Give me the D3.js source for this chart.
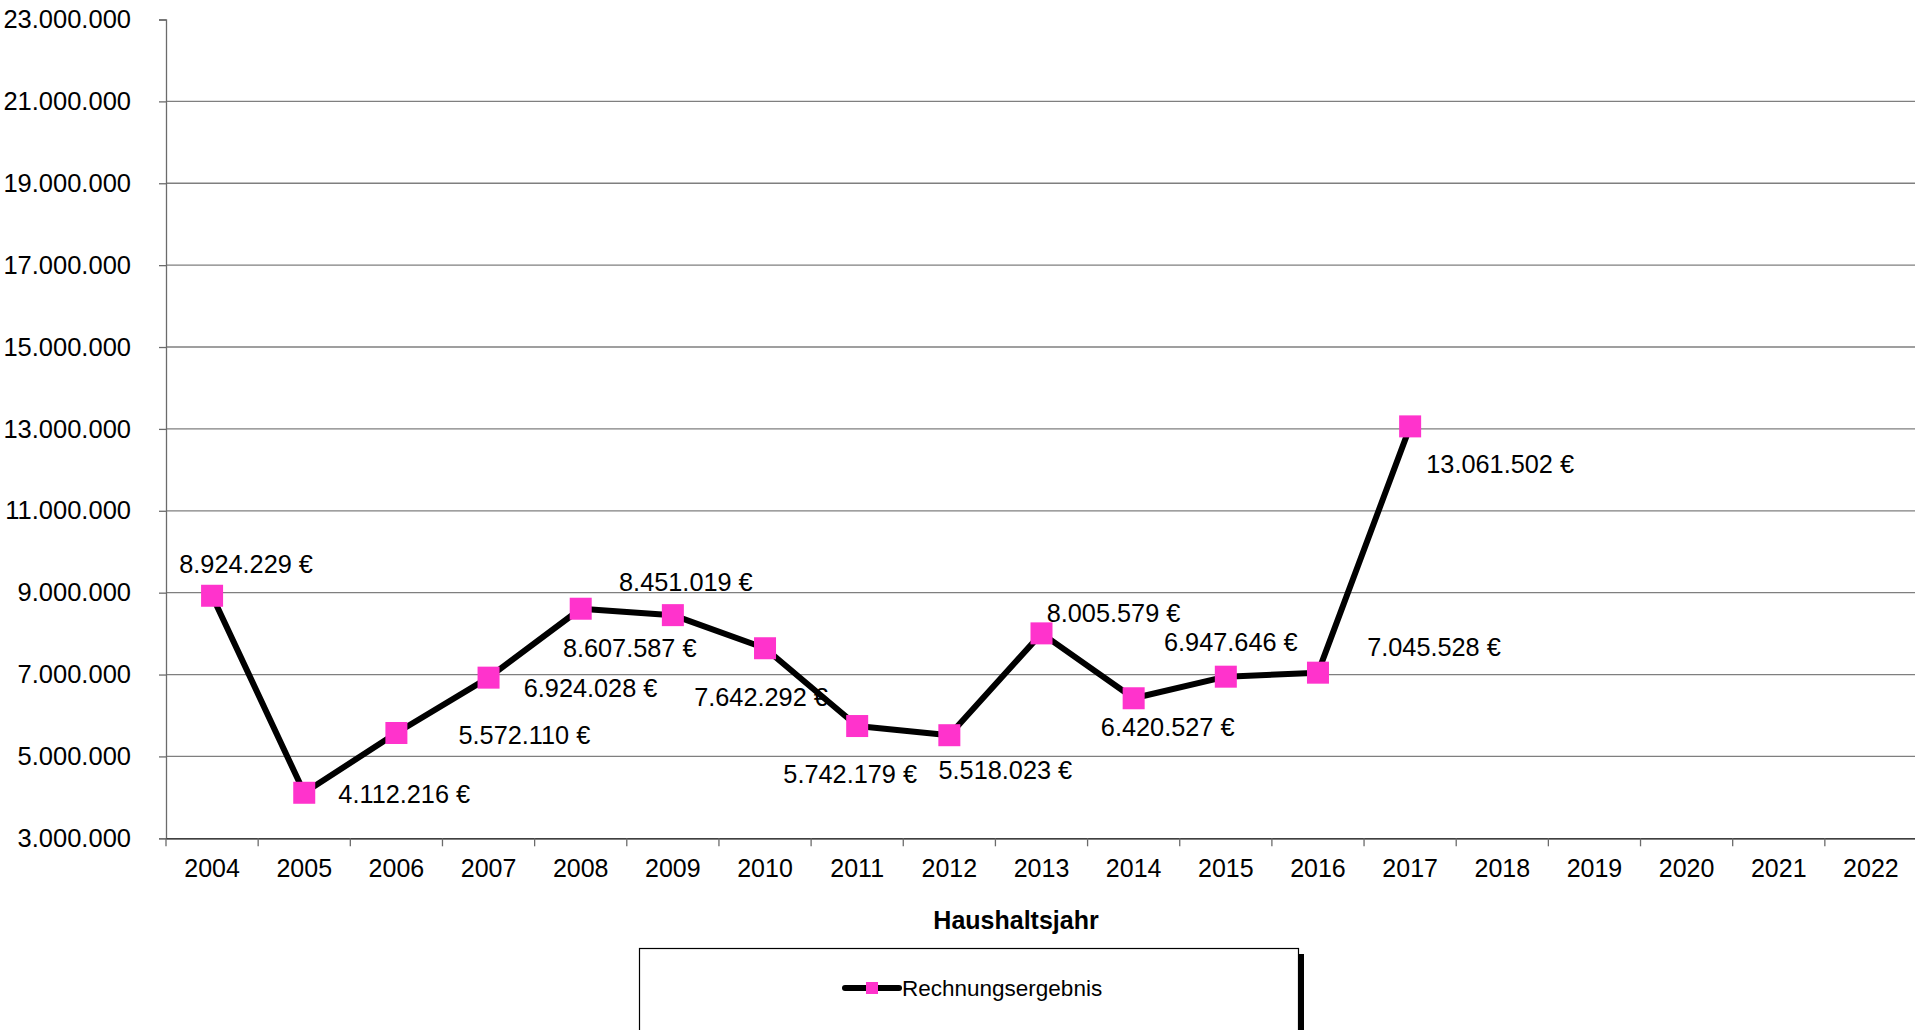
<!DOCTYPE html>
<html>
<head>
<meta charset="utf-8">
<script src="https://cdn.jsdelivr.net/npm/d3@7"></script>
<style>
  html, body { margin: 0; padding: 0; background: #fff; overflow: hidden; }
  svg { display: block; font-family: "Liberation Sans", Arial, sans-serif; }
</style>
</head>
<body>
<svg width="1915" height="1030"></svg>
<script>
// chart data
const years = ["2004", "2005", "2006", "2007", "2008", "2009", "2010", "2011", "2012",
               "2013", "2014", "2015", "2016", "2017", "2018", "2019", "2020", "2021", "2022"];
const valueYears = ["2004", "2005", "2006", "2007", "2008", "2009", "2010", "2011", "2012",
                    "2013", "2014", "2015", "2016", "2017"];
const values = [8924229, 4112216, 5572110, 6924028, 8607587, 8451019, 7642292, 5742179,
                5518023, 8005579, 6420527, 6947646, 7045528, 13061502];
const yTicks = [3000000, 5000000, 7000000, 9000000, 11000000, 13000000, 15000000,
                17000000, 19000000, 21000000, 23000000];
const seriesName = "Rechnungsergebnis";
const xTitle = "Haushaltsjahr";

// where each data label sits relative to its marker (layout only)
const labelOffsets = [[34, -32], [100, 1], [128, 2], [102, 10], [49, 39], [13, -33], [-4, 49],
                      [-7, 48], [56, 35], [72, -20], [34, 29], [5, -35], [116, -26], [90, 38]];

const de = d3.formatLocale({decimal: ",", thousands: ".", grouping: [3], currency: ["", " €"]});
const fmtAxis = de.format(",.0f");
const fmtLabel = v => de.format(",.0f")(v) + " €";

const svg = d3.select("svg");
const plotLeft = 166, plotRight = 1917, plotTop = 19.5, plotBottom = 838.3;

const x = d3.scaleBand().domain(years).range([plotLeft, plotRight]).padding(0);
const y = d3.scaleLinear().domain([3000000, 23000000]).range([plotBottom, plotTop]);

// gridlines (no line at the top value)
svg.append("g")
  .selectAll("line")
  .data(yTicks.filter(t => t > 3000000 && t < 23000000))
  .enter().append("line")
  .attr("x1", plotLeft).attr("x2", plotRight)
  .attr("y1", d => y(d)).attr("y2", d => y(d))
  .attr("stroke", "#7f7f7f").attr("stroke-width", 1.3);

// y axis
const yAxis = svg.append("g")
  .attr("transform", `translate(${plotLeft},0)`)
  .call(d3.axisLeft(y).tickValues(yTicks).tickFormat(fmtAxis).tickSize(7).tickPadding(28));
yAxis.select(".domain").attr("stroke", "#6b6b6b").attr("stroke-width", 1.3);
yAxis.selectAll(".tick line").attr("stroke", "#6b6b6b").attr("stroke-width", 1.3);
yAxis.selectAll("text").attr("font-size", 25.5).attr("fill", "#000")
  .attr("font-family", "Liberation Sans, Arial, sans-serif");

// x axis: ticks sit on the band boundaries
const xAxis = svg.append("g")
  .attr("transform", `translate(0,${plotBottom})`)
  .call(d3.axisBottom(x).tickSize(0).tickPadding(21));
xAxis.select(".domain").attr("stroke", "#000").attr("stroke-width", 1.3);
xAxis.selectAll("text").attr("font-size", 25).attr("fill", "#000")
  .attr("font-family", "Liberation Sans, Arial, sans-serif");
xAxis.selectAll(".boundary")
  .data(years)
  .enter().append("line")
  .attr("class", "boundary")
  .attr("x1", d => x(d)).attr("x2", d => x(d))
  .attr("y1", 0).attr("y2", 8)
  .attr("stroke", "#6b6b6b").attr("stroke-width", 1.3);

// axis title
svg.append("text")
  .attr("x", 1016).attr("y", 929)
  .attr("text-anchor", "middle")
  .attr("font-size", 25).attr("font-weight", "bold")
  .text(xTitle);

const pts = valueYears.map((yr, i) => ({year: yr, value: values[i], off: labelOffsets[i]}));
const cx = d => x(d.year) + x.bandwidth() / 2;

// data labels
svg.append("g")
  .selectAll("text")
  .data(pts)
  .enter().append("text")
  .attr("x", d => cx(d) + d.off[0])
  .attr("y", d => y(d.value) + d.off[1])
  .attr("dy", "0.35em")
  .attr("text-anchor", "middle")
  .attr("font-size", 25.3)
  .text(d => fmtLabel(d.value));

// line
const line = d3.line().x(cx).y(d => y(d.value));
svg.append("path")
  .datum(pts)
  .attr("d", line)
  .attr("fill", "none")
  .attr("stroke", "#000")
  .attr("stroke-width", 6)
  .attr("stroke-linejoin", "round");

// markers
const ms = 22;
svg.append("g")
  .selectAll("rect")
  .data(pts)
  .enter().append("rect")
  .attr("x", d => cx(d) - ms / 2)
  .attr("y", d => y(d.value) - ms / 2)
  .attr("width", ms).attr("height", ms)
  .attr("fill", "#ff33cc");

// legend box with its shadow on the right
const lg = svg.append("g");
lg.append("rect")
  .attr("x", 1298).attr("y", 954).attr("width", 6).attr("height", 90)
  .attr("fill", "#000");
lg.append("rect")
  .attr("x", 639.5).attr("y", 948.5).attr("width", 659).attr("height", 100)
  .attr("fill", "#fff").attr("stroke", "#000").attr("stroke-width", 1.2);
lg.append("line")
  .attr("x1", 845).attr("x2", 899).attr("y1", 988).attr("y2", 988)
  .attr("stroke", "#000").attr("stroke-width", 6).attr("stroke-linecap", "round");
lg.append("rect")
  .attr("x", 866).attr("y", 982).attr("width", 12).attr("height", 12)
  .attr("fill", "#ff33cc");
lg.append("text")
  .attr("x", 902).attr("y", 988).attr("dy", "0.35em")
  .attr("font-size", 22.5)
  .text(seriesName);
</script>
</body>
</html>
